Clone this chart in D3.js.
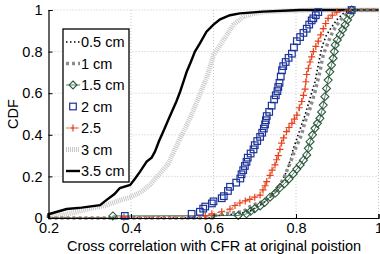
<!DOCTYPE html>
<html>
<head>
<meta charset="utf-8">
<script src="https://cdn.jsdelivr.net/npm/d3@7"></script>
<style>
  body { margin: 0; background: #fff; }
  text { font-family: "Liberation Sans", Arial, sans-serif; }
</style>
</head>
<body>
<div id="chart"></div>
<script>
// CDF samples: [cross correlation, cumulative fraction]
const cdf05 = [[0.6,0.01],[0.66,0.02],[0.69,0.035],[0.705,0.054],[0.717,0.068],[0.729,0.085],[0.74,0.105],[0.749,0.13],[0.757,0.15],[0.765,0.175],[0.773,0.205],[0.781,0.245],[0.787,0.285],[0.793,0.33],[0.80,0.37],[0.806,0.405],[0.814,0.45],[0.822,0.495],[0.828,0.535],[0.834,0.575],[0.84,0.615],[0.846,0.655],[0.85,0.695],[0.854,0.736],[0.858,0.776],[0.862,0.816],[0.868,0.85],[0.874,0.88],[0.882,0.905],[0.89,0.928],[0.9,0.955],[0.915,0.984],[0.935,1]];
const cdf1 = [[0.6,0.01],[0.624,0.02],[0.672,0.03],[0.688,0.054],[0.70,0.065],[0.717,0.078],[0.73,0.095],[0.741,0.11],[0.752,0.135],[0.761,0.158],[0.77,0.19],[0.777,0.223],[0.785,0.26],[0.793,0.303],[0.80,0.34],[0.81,0.383],[0.816,0.42],[0.822,0.463],[0.828,0.495],[0.834,0.527],[0.84,0.567],[0.846,0.607],[0.852,0.655],[0.858,0.703],[0.862,0.745],[0.866,0.784],[0.874,0.825],[0.882,0.864],[0.89,0.9],[0.899,0.928],[0.907,0.95],[0.915,0.968],[0.925,0.985],[0.93,1]];
const cdf15 = [[0.356,0.01],[0.66,0.012],[0.68,0.02],[0.69,0.032],[0.7,0.045],[0.713,0.058],[0.724,0.075],[0.737,0.1],[0.75,0.12],[0.761,0.145],[0.772,0.165],[0.783,0.188],[0.793,0.212],[0.802,0.235],[0.81,0.255],[0.818,0.278],[0.826,0.303],[0.83,0.335],[0.834,0.367],[0.84,0.4],[0.846,0.431],[0.852,0.455],[0.858,0.479],[0.862,0.51],[0.866,0.543],[0.87,0.583],[0.874,0.623],[0.878,0.663],[0.882,0.703],[0.886,0.735],[0.89,0.768],[0.893,0.8],[0.895,0.832],[0.9,0.856],[0.907,0.88],[0.913,0.905],[0.919,0.928],[0.925,0.952],[0.931,0.976],[0.935,1]];
const cdf2 = [[0.385,0.01],[0.547,0.02],[0.567,0.03],[0.575,0.045],[0.58,0.055],[0.596,0.07],[0.6,0.08],[0.62,0.095],[0.625,0.105],[0.635,0.13],[0.64,0.15],[0.655,0.17],[0.665,0.19],[0.668,0.21],[0.672,0.23],[0.676,0.25],[0.68,0.27],[0.683,0.29],[0.69,0.31],[0.697,0.33],[0.70,0.35],[0.706,0.37],[0.713,0.39],[0.718,0.41],[0.722,0.43],[0.725,0.45],[0.727,0.47],[0.729,0.49],[0.735,0.51],[0.741,0.54],[0.747,0.57],[0.751,0.59],[0.755,0.61],[0.757,0.63],[0.76,0.65],[0.763,0.68],[0.766,0.71],[0.769,0.73],[0.775,0.75],[0.782,0.77],[0.79,0.79],[0.795,0.82],[0.802,0.85],[0.81,0.87],[0.818,0.89],[0.826,0.91],[0.832,0.93],[0.838,0.95],[0.842,0.96],[0.848,0.975],[0.854,0.99],[0.935,1.0]];
const cdf25 = [[0.383,0.005],[0.58,0.01],[0.596,0.02],[0.62,0.03],[0.64,0.043],[0.652,0.06],[0.664,0.072],[0.677,0.082],[0.688,0.09],[0.70,0.1],[0.713,0.11],[0.72,0.135],[0.725,0.155],[0.729,0.175],[0.737,0.205],[0.742,0.23],[0.749,0.255],[0.753,0.28],[0.757,0.30],[0.761,0.33],[0.765,0.36],[0.77,0.385],[0.777,0.415],[0.783,0.435],[0.79,0.455],[0.796,0.475],[0.802,0.495],[0.808,0.53],[0.814,0.56],[0.818,0.59],[0.822,0.62],[0.824,0.655],[0.826,0.69],[0.83,0.72],[0.834,0.75],[0.838,0.775],[0.842,0.80],[0.848,0.825],[0.854,0.85],[0.86,0.88],[0.866,0.91],[0.872,0.935],[0.878,0.96],[0.888,0.975],[0.899,0.99],[0.927,1.0]];
const cdf3 = [[0.2,0.003],[0.26,0.025],[0.30,0.045],[0.341,0.062],[0.373,0.085],[0.398,0.1],[0.422,0.122],[0.446,0.16],[0.466,0.205],[0.49,0.26],[0.503,0.315],[0.519,0.383],[0.531,0.43],[0.543,0.479],[0.553,0.527],[0.563,0.575],[0.573,0.625],[0.583,0.671],[0.592,0.73],[0.6,0.784],[0.616,0.83],[0.632,0.88],[0.648,0.928],[0.672,0.968],[0.7,0.984],[0.729,0.992],[0.84,1]];
const cdf35 = [[0.2,0.018],[0.244,0.043],[0.28,0.05],[0.325,0.062],[0.341,0.087],[0.36,0.115],[0.373,0.144],[0.398,0.159],[0.41,0.19],[0.422,0.223],[0.438,0.271],[0.45,0.29],[0.458,0.319],[0.468,0.37],[0.478,0.415],[0.49,0.47],[0.499,0.511],[0.51,0.56],[0.519,0.607],[0.528,0.66],[0.535,0.703],[0.545,0.75],[0.555,0.8],[0.567,0.84],[0.583,0.896],[0.6,0.93],[0.616,0.955],[0.64,0.975],[0.664,0.984],[0.72,0.992],[0.81,1]];

const seriesNames = ["0.5 cm", "1 cm", "1.5 cm", "2 cm", "2.5", "3 cm", "3.5 cm"];
const xTicks = [0.2, 0.4, 0.6, 0.8, 1];
const yTicks = [0, 0.2, 0.4, 0.6, 0.8, 1];

// how each curve looks, in legend order
const styles = [
  {data: cdf05, stroke: "#000", width: 1.6, dash: "1.5,2.5", marker: null},
  {data: cdf1, stroke: "#8c8c8c", width: 3.5, dash: "3,3", marker: null},
  {data: cdf15, stroke: "#2c5a3c", width: 0.8, dash: null, marker: "diamond", color: "#2c5a3c"},
  {data: cdf2, stroke: null, width: 0, dash: null, marker: "square", color: "#1c3399"},
  {data: cdf25, stroke: "#e8401a", width: 0.8, dash: "3,2", marker: "plus", color: "#e8401a"},
  {data: cdf3, stroke: "#c8c8c8", width: 5, dash: "1,1", marker: null},
  {data: cdf35, stroke: "#000", width: 2.4, dash: null, marker: null}
];

const W = 380, H = 254;
const margin = {top: 10, right: 1.5, bottom: 36, left: 48.5};
const fontSize = 14.5;

const svg = d3.select("#chart").append("svg")
    .attr("width", W)
    .attr("height", H);

const x = d3.scaleLinear().domain([0.2, 1]).range([margin.left, W - margin.right]);
const y = d3.scaleLinear().domain([0, 1]).range([H - margin.bottom, margin.top]);

// dotted grid
const grid = svg.append("g").attr("stroke", "#c8c8c8").attr("stroke-dasharray", "1,2").attr("stroke-width", 1);
grid.selectAll(".gx").data(xTicks.slice(1)).enter().append("line")
    .attr("x1", d => x(d)).attr("x2", d => x(d))
    .attr("y1", y(0)).attr("y2", y(1));
grid.selectAll(".gy").data(yTicks.slice(1)).enter().append("line")
    .attr("x1", x(0.2)).attr("x2", x(1))
    .attr("y1", d => y(d)).attr("y2", d => y(d));

// curves, extended flat at 0 on the left and at 1 on the right
const line = d3.line().x(d => x(d[0])).y(d => y(d[1]));
const extend = pts => [[0.2, 0], [pts[0][0], 0]].concat(pts, [[pts[pts.length - 1][0], 1], [1, 1]]);

const drawOrder = [5, 6, 0, 1, 2, 4, 3];
drawOrder.forEach(i => {
  const s = styles[i];
  if (!s.stroke) return;
  svg.append("path")
      .attr("d", line(extend(s.data)))
      .attr("fill", "none")
      .attr("stroke", s.stroke)
      .attr("stroke-width", s.width)
      .attr("stroke-dasharray", s.dash);
});

function marker(g, type, color) {
  if (type === "square") {
    g.append("rect").attr("x", -3.3).attr("y", -3.3).attr("width", 6.6).attr("height", 6.6)
        .attr("fill", "none").attr("stroke", color).attr("stroke-width", 1.2);
  } else if (type === "diamond") {
    g.append("path").attr("d", "M0,-4L4,0L0,4L-4,0Z")
        .attr("fill", "none").attr("stroke", color).attr("stroke-width", 1.1);
  } else if (type === "plus") {
    g.append("path").attr("d", "M-3.5,0H3.5M0,-3.5V3.5")
        .attr("fill", "none").attr("stroke", color).attr("stroke-width", 1.2);
  }
}

[2, 4, 3].forEach(i => {
  const s = styles[i];
  svg.append("g").selectAll("g")
      .data(s.data)
      .enter().append("g")
      .attr("transform", d => `translate(${x(d[0])},${y(d[1])})`)
      .each(function() { marker(d3.select(this), s.marker, s.color); });
});

// axes (ticks point inwards)
const xAxis = svg.append("g")
    .attr("transform", `translate(0,${y(0)})`)
    .call(d3.axisBottom(x).tickValues(xTicks).tickSize(-4).tickPadding(5).tickFormat(d3.format("")));
const yAxis = svg.append("g")
    .attr("transform", `translate(${x(0.2)},0)`)
    .call(d3.axisLeft(y).tickValues(yTicks).tickSize(-4).tickPadding(6).tickFormat(d3.format("")));
[xAxis, yAxis].forEach(a => {
  a.select(".domain").attr("stroke", "#000").attr("stroke-width", 1.2);
  a.selectAll(".tick line").attr("stroke", "#000");
  a.selectAll("text").attr("font-size", fontSize).attr("fill", "#000")
      .style("font-family", "'Liberation Sans', Arial, sans-serif");
});

svg.append("text")
    .attr("x", 214).attr("y", 251)
    .attr("text-anchor", "middle")
    .attr("font-size", fontSize)
    .text("Cross correlation with CFR at original poistion");

svg.append("text")
    .attr("transform", `translate(18,${y(0.5)}) rotate(-90)`)
    .attr("text-anchor", "middle")
    .attr("font-size", fontSize)
    .text("CDF");

// legend
const lg = svg.append("g").attr("transform", "translate(63,29)");
lg.append("rect").attr("width", 66).attr("height", 153)
    .attr("fill", "#fff").attr("stroke", "#000").attr("stroke-width", 1.3);
seriesNames.forEach((name, i) => {
  const s = styles[i];
  const cy = 13 + i * 21.5;
  const row = lg.append("g").attr("transform", `translate(0,${cy})`);
  if (s.stroke) {
    row.append("line").attr("x1", 3).attr("x2", 17).attr("y1", 0).attr("y2", 0)
        .attr("stroke", s.stroke).attr("stroke-width", s.width).attr("stroke-dasharray", s.dash);
  }
  if (s.marker) {
    marker(row.append("g").attr("transform", "translate(10,0)"), s.marker, s.color);
  }
  row.append("text").attr("x", 18).attr("y", 5).attr("font-size", fontSize).text(name);
});
</script>
</body>
</html>
